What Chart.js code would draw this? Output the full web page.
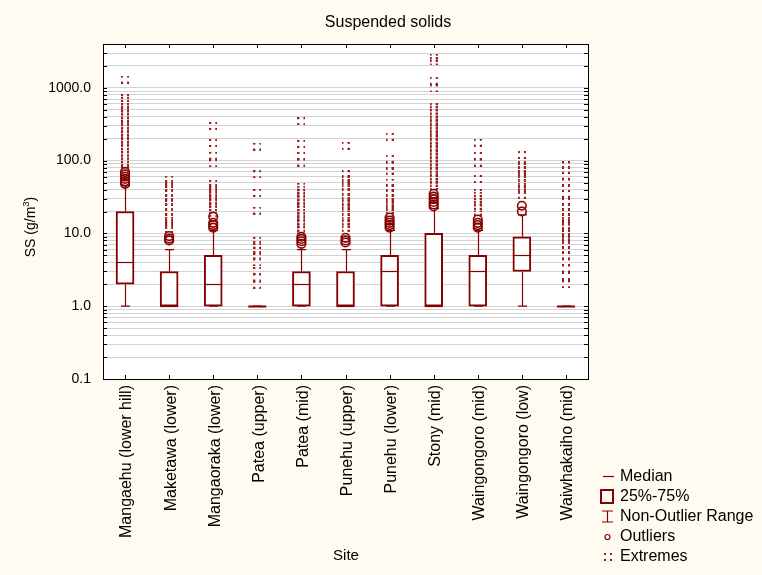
<!DOCTYPE html>
<html>
<head>
<meta charset="utf-8">
<title>Suspended solids</title>
<script src="https://cdn.jsdelivr.net/npm/chart.js@4"></script>
<style>
  html, body { margin: 0; padding: 0; background: #fffbf0; }
  #wrap { width: 762px; height: 575px; }
</style>
</head>
<body>
<div id="wrap"><canvas id="chartSS" width="762" height="575"></canvas></div>
<script>
// Box plot of suspended solids per site (log scale)

const sites = [
  'Mangaehu (lower hill)', 'Maketawa (lower)', 'Mangaoraka (lower)', 'Patea (upper)',
  'Patea (mid)', 'Punehu (upper)', 'Punehu (lower)', 'Stony (mid)',
  'Waingongoro (mid)', 'Waingongoro (low)', 'Waiwhakaiho (mid)'
];

// non-outlier range, quartiles and median
const whiskerLow  = [1, 1, 1, 1, 1, 1, 1, 1, 1, 1, 1];
const q1          = [2, 1, 1, 1, 1, 1, 1, 1, 1, 3, 1];
const median      = [4, 1, 2, 1, 2, 1, 3, 1, 3, 5, 1];
const q3          = [20, 3, 5, 1, 3, 3, 5, 10, 5, 9, 1];
const whiskerHigh = [45, 6, 11, 1, 6, 6, 11, 22, 11, 18, 1];

// outliers (circles)
const outliers = [
  [48, 52, 56, 60, 65, 70],
  [8, 8.5, 9.2],
  [12, 13, 14, 17],
  [],
  [7.2, 7.8, 8.4, 9],
  [7.5, 8, 8.7],
  [12, 13, 14, 15, 16.5],
  [23.5, 25, 27, 29.5, 32, 35],
  [12, 13, 14, 15.5],
  [20, 24],
  []
];

// extremes (dotted squares)
const extremes = [
  [1300, 720, 660, 600, 540, 480, 430, 390, 350, 310, 280, 250, 225, 200, 180, 160, 145, 130, 118, 106, 96, 88, 80, 74],
  [55, 48, 42, 36, 31, 27, 23, 20, 17, 15, 13, 11.5],
  [300, 175, 117, 92, 48, 42, 37, 33, 29, 26, 23, 21, 19],
  [156, 65, 36, 20.6, 7.9, 7, 5.8, 5, 4, 3.06, 2.48, 1.97],
  [348, 170, 116, 94, 44, 40, 36, 32, 29, 26, 23, 21, 19, 17, 15, 13.5, 12, 11],
  [160, 65, 56, 49, 43, 37, 32, 28, 25, 22, 19.5, 17, 15, 13.5, 12],
  [213, 106, 85, 73, 50, 42, 36, 31, 27, 24, 21, 19],
  [2600, 2300, 1250, 980, 540, 490, 445, 400, 355, 315, 280, 250, 220, 195, 175, 155, 138, 123, 110, 98, 88, 78, 70, 62, 56, 50, 45],
  [177, 116, 94, 56, 36, 33, 30, 27, 24, 22, 20],
  [119, 100, 87, 75, 65, 57, 50, 44, 39, 34],
  [86, 75, 62, 50, 42, 35, 27, 23, 20, 17, 15, 13, 12, 10.5, 9, 8, 7, 6, 5, 4, 3.3, 2.6, 2]
];

// y axis: decades and the in-between grid steps
const yDecades = [0.1, 1, 10, 100, 1000];
const yGridSteps = [1, 2, 3, 4, 5, 6, 7, 8, 9];
const yMin = 0.1, yMax = 4000;

const RED = '#850000';
const FONT = "'Liberation Sans', Arial, sans-serif";

const yTickValues = [];
yDecades.forEach(d => yGridSteps.forEach(s => {
  const v = +(d * s).toPrecision(6);
  if (v <= yMax) yTickValues.push(v);
}));
yTickValues.push(2000, 3000, 4000);

const isDecade = (v) => Math.abs(Math.log10(v) - Math.round(Math.log10(v))) < 1e-9;

// small marker made of four dots, used for extremes
const dotSquare = (() => {
  const c = document.createElement('canvas');
  c.width = 8; c.height = 8;
  const g = c.getContext('2d');
  g.fillStyle = '#9a1c1c';
  [[0, 0], [6, 0], [0, 6], [6, 6]].forEach(p => g.fillRect(p[0], p[1], 2, 2));
  return c;
})();

const toPoints = (lists) => {
  const pts = [];
  lists.forEach((vals, i) => vals.forEach(v => pts.push({ x: sites[i], y: v })));
  return pts;
};

// background, whiskers, medians, frame, ticks, titles, legend
const boxPlotPlugin = {
  id: 'boxPlot',
  beforeDraw(chart) {
    const { ctx, chartArea: a } = chart;
    ctx.save();
    ctx.fillStyle = '#fffbf0';
    ctx.fillRect(0, 0, chart.width, chart.height);
    ctx.fillStyle = '#ffffff';
    ctx.fillRect(a.left, a.top, a.right - a.left, a.bottom - a.top);
    ctx.restore();
  },
  beforeDatasetsDraw(chart) {
    const { ctx, scales: { x, y } } = chart;
    ctx.save();
    ctx.strokeStyle = RED;
    ctx.lineWidth = 1.2;
    sites.forEach((s, i) => {
      const px = Math.round(x.getPixelForValue(i)) + 0.5;
      const yl = y.getPixelForValue(whiskerLow[i]);
      const yh = y.getPixelForValue(whiskerHigh[i]);
      const y1 = y.getPixelForValue(q1[i]);
      const y3 = y.getPixelForValue(q3[i]);
      ctx.beginPath();
      ctx.moveTo(px, yh); ctx.lineTo(px, y3);
      ctx.moveTo(px, y1); ctx.lineTo(px, yl);
      ctx.moveTo(px - 4.5, yh); ctx.lineTo(px + 4.5, yh);
      ctx.moveTo(px - 4.5, yl); ctx.lineTo(px + 4.5, yl);
      ctx.stroke();
    });
    ctx.restore();
  },
  afterDatasetsDraw(chart) {
    const { ctx, scales: { x, y } } = chart;
    ctx.save();
    ctx.strokeStyle = RED;
    sites.forEach((s, i) => {
      const px = x.getPixelForValue(i);
      const pm = Math.round(y.getPixelForValue(median[i])) + 0.5;
      ctx.lineWidth = q1[i] === q3[i] ? 2 : 1.2;
      ctx.beginPath();
      ctx.moveTo(px - 9, pm); ctx.lineTo(px + 9, pm);
      ctx.stroke();
    });
    ctx.restore();
  },
  afterDraw(chart) {
    const { ctx, chartArea: a, scales: { x, y } } = chart;
    ctx.save();
    // frame
    ctx.strokeStyle = '#000';
    ctx.lineWidth = 1;
    ctx.strokeRect(Math.round(a.left) + 0.5, Math.round(a.top) + 0.5,
      Math.round(a.right - a.left), Math.round(a.bottom - a.top));
    // inward tick marks
    ctx.beginPath();
    y.ticks.forEach(t => {
      const py = Math.round(y.getPixelForValue(t.value)) + 0.5;
      ctx.moveTo(a.left, py); ctx.lineTo(a.left + 4, py);
      ctx.moveTo(a.right, py); ctx.lineTo(a.right - 4, py);
    });
    sites.forEach((s, i) => {
      const px = Math.round(x.getPixelForValue(i)) + 0.5;
      ctx.moveTo(px, a.top); ctx.lineTo(px, a.top + 4);
      ctx.moveTo(px, a.bottom); ctx.lineTo(px, a.bottom - 4);
    });
    ctx.stroke();

    // titles
    ctx.fillStyle = '#000';
    ctx.textAlign = 'center';
    ctx.textBaseline = 'middle';
    ctx.font = '16px ' + FONT;
    ctx.fillText('Suspended solids', 388, 23);
    ctx.font = '15px ' + FONT;
    ctx.fillText('Site', 346, 556);

    // y axis title with superscript
    ctx.save();
    ctx.translate(31, 227);
    ctx.rotate(-Math.PI / 2);
    const partA = 'SS (g/m', partB = '3', partC = ')';
    ctx.font = '14px ' + FONT;
    const wA = ctx.measureText(partA).width, wC = ctx.measureText(partC).width;
    ctx.font = '9.5px ' + FONT;
    const wB = ctx.measureText(partB).width;
    let cx = -(wA + wB + wC) / 2;
    ctx.textAlign = 'left';
    ctx.font = '14px ' + FONT;
    ctx.fillText(partA, cx, 0); cx += wA;
    ctx.font = '9.5px ' + FONT;
    ctx.fillText(partB, cx, -5); cx += wB;
    ctx.font = '14px ' + FONT;
    ctx.fillText(partC, cx, 0);
    ctx.restore();

    // legend
    const lx = 620;
    ctx.textAlign = 'left';
    ctx.font = '16px ' + FONT;
    ctx.fillStyle = '#000';
    ctx.fillText('Median', lx, 477);
    ctx.fillText('25%-75%', lx, 497);
    ctx.fillText('Non-Outlier Range', lx, 517);
    ctx.fillText('Outliers', lx, 537);
    ctx.fillText('Extremes', lx, 557);
    ctx.strokeStyle = RED;
    ctx.lineWidth = 1.2;
    ctx.beginPath(); ctx.moveTo(603, 476.5); ctx.lineTo(614, 476.5); ctx.stroke();
    ctx.lineWidth = 2;
    ctx.strokeRect(601, 490, 12, 13);
    ctx.lineWidth = 1.2;
    ctx.beginPath();
    ctx.moveTo(607.5, 511); ctx.lineTo(607.5, 522);
    ctx.moveTo(602, 511); ctx.lineTo(613, 511);
    ctx.moveTo(602, 522); ctx.lineTo(613, 522);
    ctx.stroke();
    ctx.beginPath(); ctx.arc(607.5, 537, 2.5, 0, Math.PI * 2); ctx.stroke();
    ctx.drawImage(dotSquare, 604, 553);
    ctx.restore();
  }
};

const chart = new Chart(document.getElementById('chartSS'), {
  type: 'bar',
  data: {
    labels: sites,
    datasets: [
      {
        label: '25%-75%',
        data: sites.map((s, i) => [q1[i], q3[i]]),
        backgroundColor: '#ffffff',
        borderColor: RED,
        borderWidth: 2,
        borderSkipped: false,
        barThickness: 18,
        order: 3
      },
      {
        type: 'line',
        label: 'Outliers',
        data: toPoints(outliers),
        showLine: false,
        pointStyle: 'circle',
        pointRadius: 4.3,
        pointBorderWidth: 1.6,
        pointBorderColor: RED,
        pointBackgroundColor: 'rgba(0,0,0,0)',
        order: 2
      },
      {
        type: 'line',
        label: 'Extremes',
        data: toPoints(extremes),
        showLine: false,
        pointStyle: dotSquare,
        pointRadius: 4,
        order: 1
      }
    ]
  },
  options: {
    responsive: false,
    animation: false,
    layout: { padding: { top: 44, right: 174, left: 0, bottom: 0 } },
    plugins: {
      legend: { display: false },
      title: { display: false },
      tooltip: { enabled: false }
    },
    scales: {
      x: {
        offset: true,
        grid: { display: false, drawTicks: false },
        border: { display: false },
        ticks: {
          autoSkip: false,
          maxRotation: 90,
          minRotation: 90,
          padding: 6,
          labelOffset: 2,
          color: '#000',
          font: { family: FONT, size: 16 }
        },
        afterFit: (s) => { s.height = 196; }
      },
      y: {
        type: 'logarithmic',
        min: yMin,
        max: yMax,
        afterBuildTicks: (s) => { s.ticks = yTickValues.map(v => ({ value: v })); },
        grid: {
          drawTicks: false,
          lineWidth: 1,
          color: (c) => (c.tick && c.tick.value >= yMax) ? 'rgba(0,0,0,0)' : '#d2d2d2'
        },
        border: { display: false },
        ticks: {
          autoSkip: false,
          padding: 12,
          color: '#000',
          font: { family: FONT, size: 14 },
          callback: (v) => isDecade(v) ? Number(v).toFixed(1) : ''
        },
        afterFit: (s) => { s.width = 103; }
      }
    }
  },
  plugins: [boxPlotPlugin]
});
</script>
</body>
</html>
